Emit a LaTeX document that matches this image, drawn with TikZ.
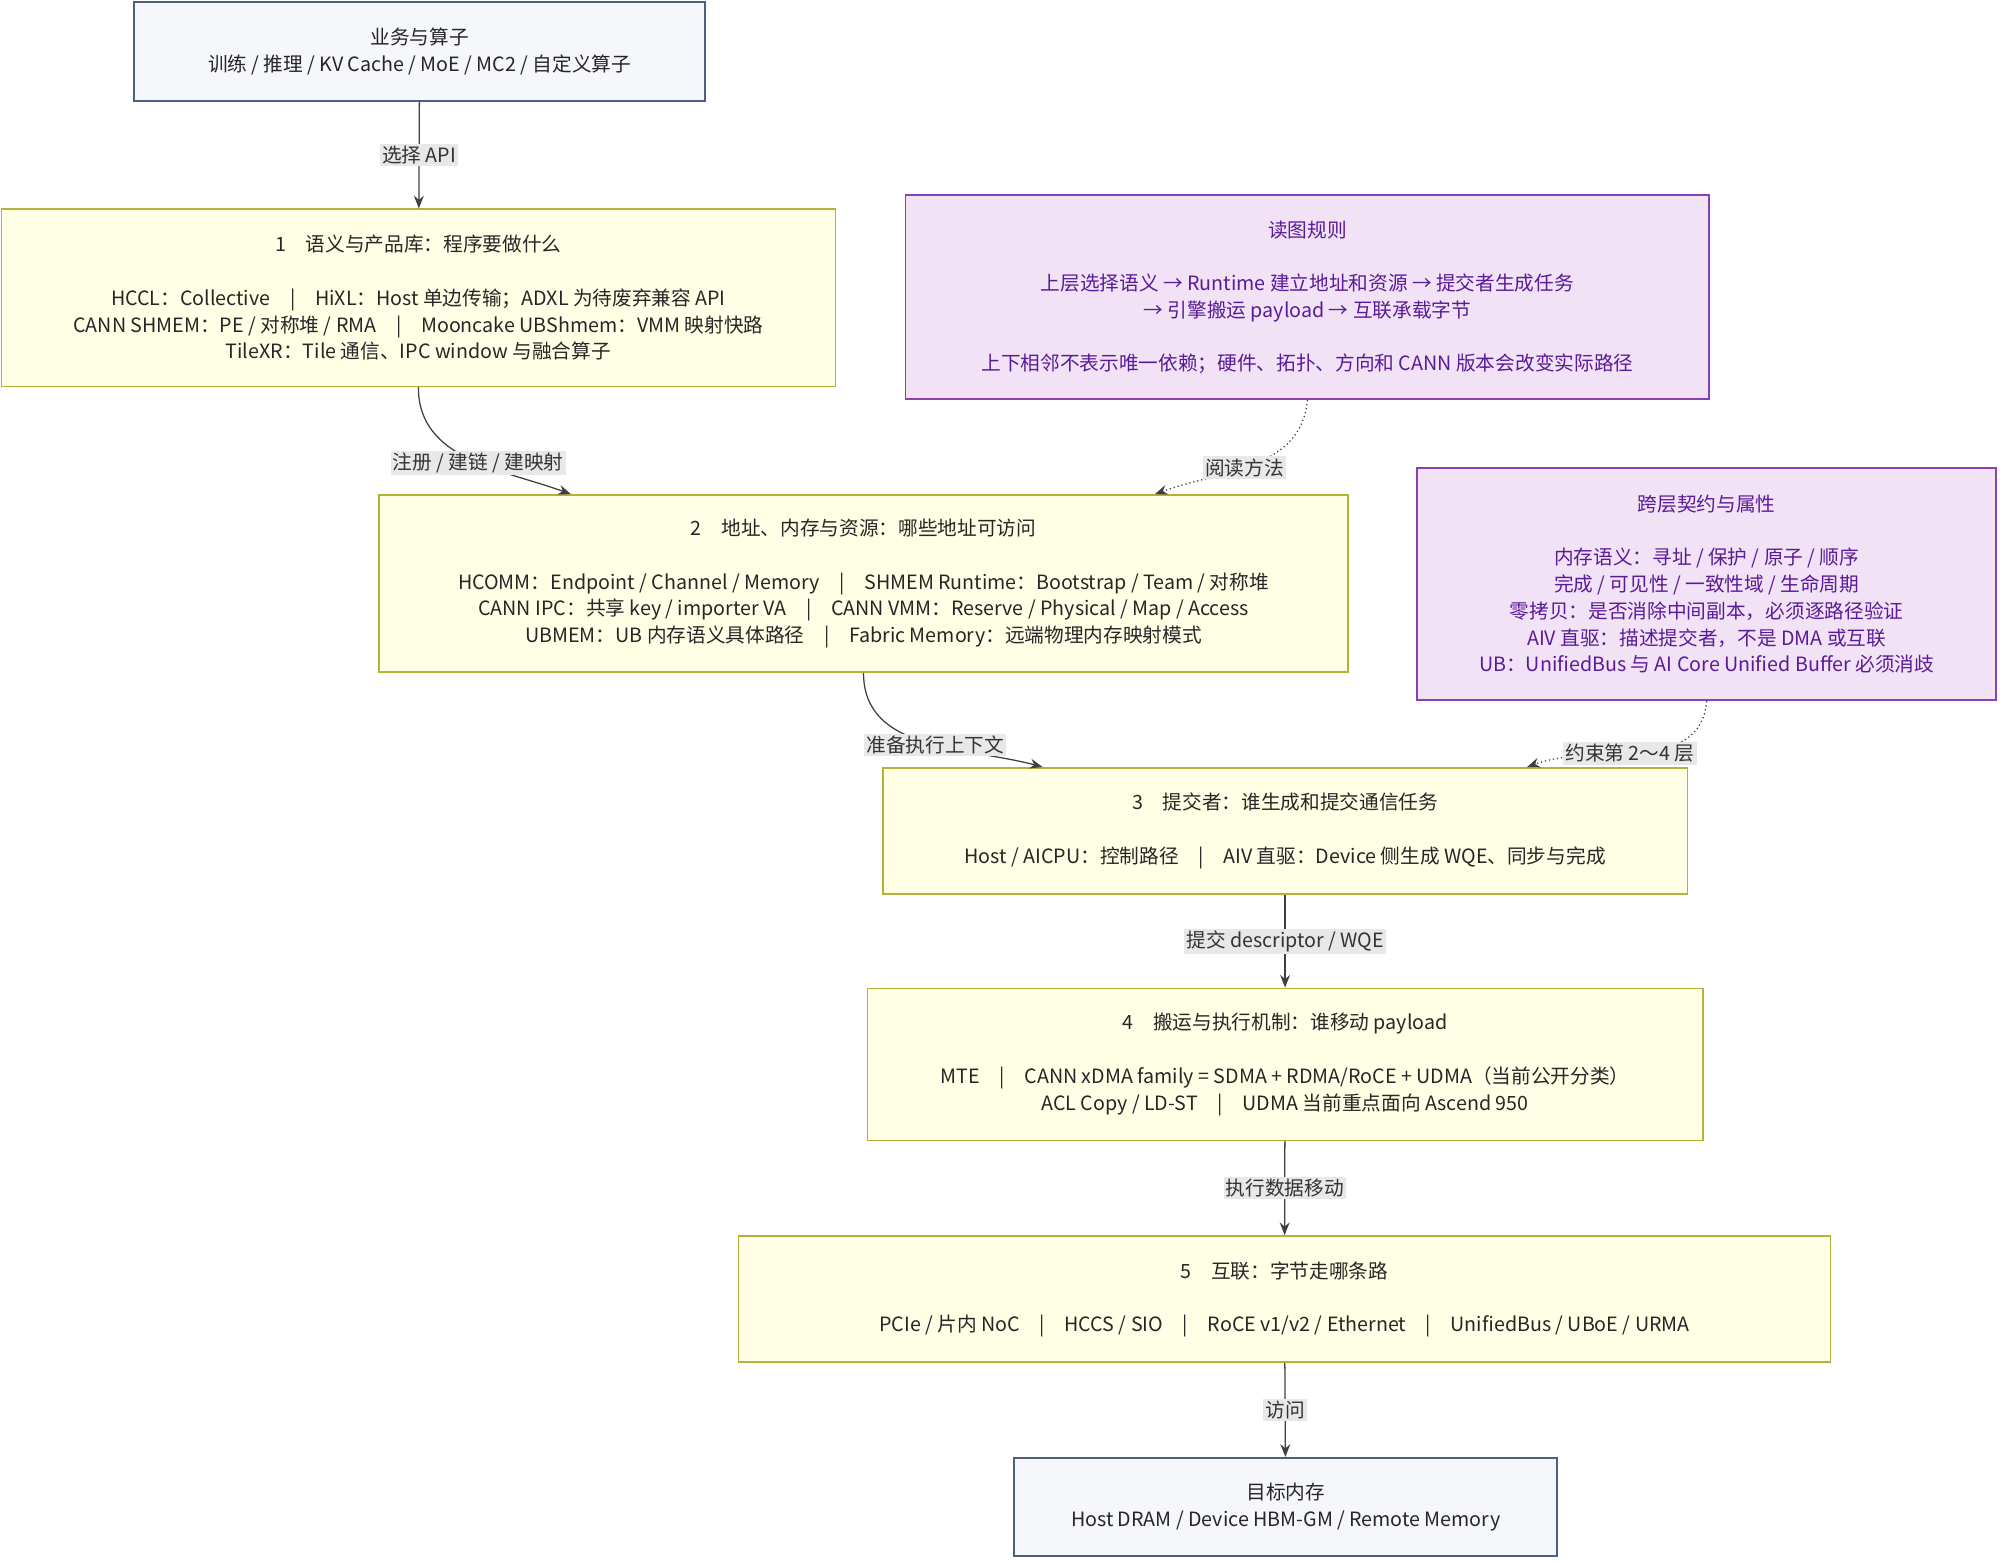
\documentclass[tikz,border=0pt]{standalone}
\usepackage{fontspec}
\setmainfont{Noto Sans CJK SC}
\usetikzlibrary{arrows.meta}
\definecolor{boxfill}{HTML}{FFFFE6}
\definecolor{boxline}{HTML}{B5B23A}
\definecolor{endfill}{HTML}{F5F7FA}
\definecolor{endline}{HTML}{4A6080}
\definecolor{notefill}{HTML}{F1E3F5}
\definecolor{noteline}{HTML}{8A3FB5}
\definecolor{notetext}{HTML}{5B1A9A}
\definecolor{lblfill}{HTML}{E8E8E8}
\tikzset{
  layer/.style={draw=boxline, fill=boxfill, line width=1.2pt, align=center, text=black!85},
  ends/.style={draw=endline, fill=endfill, line width=1.4pt, align=center, text=black!85},
  note/.style={draw=noteline, fill=notefill, line width=1.2pt, align=center, text=notetext},
  lbl/.style={fill=lblfill, inner sep=1.5pt, text=black!80},
  flow/.style={draw=black!75, line width=0.9pt, -{Stealth[length=9pt,width=7pt]}},
  hint/.style={flow, dotted}
}
\begin{document}
\begin{tikzpicture}[x=0.0319cm, y=-0.0319cm, font=\fontsize{14}{19}\selectfont]
  \useasboundingbox (0,0) rectangle (1568,1224);

  % boxes
  \node[ends, minimum width=14.29cm, minimum height=2.46cm] (biz) at (329,40.5)
    {业务与算子\\训练 / 推理 / KV Cache / MoE / MC2 / 自定义算子};
  \node[layer, minimum width=20.86cm, minimum height=4.43cm] (sem) at (328,233.5)
    {1\quad 语义与产品库：程序要做什么\\[19pt]
     HCCL：Collective\quad |\quad HiXL：Host 单边传输；ADXL 为待废弃兼容 API\\
     CANN SHMEM：PE / 对称堆 / RMA\quad |\quad Mooncake UBShmem：VMM 映射快路\\
     TileXR：Tile 通信、IPC window 与融合算子};
  \node[note, minimum width=20.10cm, minimum height=5.10cm] (rules) at (1025,233)
    {读图规则\\[19pt]
     上层选择语义 → Runtime 建立地址和资源 → 提交者生成任务\\
     → 引擎搬运 payload → 互联承载字节\\[19pt]
     上下相邻不表示唯一依赖；硬件、拓扑、方向和 CANN 版本会改变实际路径};
  \node[layer, minimum width=24.24cm, minimum height=4.43cm] (addr) at (677,457.5)
    {2\quad 地址、内存与资源：哪些地址可访问\\[19pt]
     HCOMM：Endpoint / Channel / Memory\quad |\quad SHMEM Runtime：Bootstrap / Team / 对称堆\\
     CANN IPC：共享 key / importer VA\quad |\quad CANN VMM：Reserve / Physical / Map / Access\\
     UBMEM：UB 内存语义具体路径\quad |\quad Fabric Memory：远端物理内存映射模式};
  \node[note, minimum width=14.48cm, minimum height=5.81cm] (rule) at (1338,458)
    {跨层契约与属性\\[19pt]
     内存语义：寻址 / 保护 / 原子 / 顺序\\
     完成 / 可见性 / 一致性域 / 生命周期\\
     零拷贝：是否消除中间副本，必须逐路径验证\\
     AIV 直驱：描述提交者，不是 DMA 或互联\\
     UB：UnifiedBus 与 AI Core Unified Buffer 必须消歧};
  \node[layer, minimum width=20.13cm, minimum height=3.16cm] (sub) at (1007.5,651.5)
    {3\quad 提交者：谁生成和提交通信任务\\[19pt]
     Host / AICPU：控制路径\quad |\quad AIV 直驱：Device 侧生成 WQE、同步与完成};
  \node[layer, minimum width=20.89cm, minimum height=3.80cm] (move) at (1007.5,834.5)
    {4\quad 搬运与执行机制：谁移动 payload\\[19pt]
     MTE\quad |\quad CANN xDMA family = SDMA + RDMA/RoCE + UDMA（当前公开分类）\\
     ACL Copy / LD-ST\quad |\quad UDMA 当前重点面向 Ascend 950};
  \node[layer, minimum width=27.31cm, minimum height=3.16cm] (link) at (1007,1018.5)
    {5\quad 互联：字节走哪条路\\[19pt]
     PCIe / 片内 NoC\quad |\quad HCCS / SIO\quad |\quad RoCE v1/v2 / Ethernet\quad |\quad UnifiedBus / UBoE / URMA};
  \node[ends, minimum width=13.59cm, minimum height=2.46cm] (mem) at (1008,1181.5)
    {目标内存\\Host DRAM / Device HBM-GM / Remote Memory};

  % connectors
  \draw[flow] (biz) -- node[lbl] {选择 API} (sem);
  \draw[flow] (sem.south) to[out=-90, in=160] node[lbl, pos=0.55] {注册 / 建链 / 建映射} ([xshift=4.82cm]addr.north west);
  \draw[hint] (rules.south) to[out=-95, in=20] node[lbl, pos=0.55] {阅读方法} ([xshift=19.43cm]addr.north west);
  \draw[flow] (addr.south) to[out=-90, in=165] node[lbl, pos=0.55] {准备执行上下文} ([xshift=4.02cm]sub.north west);
  \draw[hint] (rule.south) to[out=-95, in=20] node[lbl, pos=0.55] {约束第 2～4 层} ([xshift=16.14cm]sub.north west);
  \draw[flow] (sub) -- node[lbl] {提交 descriptor / WQE} (move);
  \draw[flow] (move) -- node[lbl] {执行数据移动} (link);
  \draw[flow] (link) -- node[lbl] {访问} (mem);
\end{tikzpicture}
\end{document}
